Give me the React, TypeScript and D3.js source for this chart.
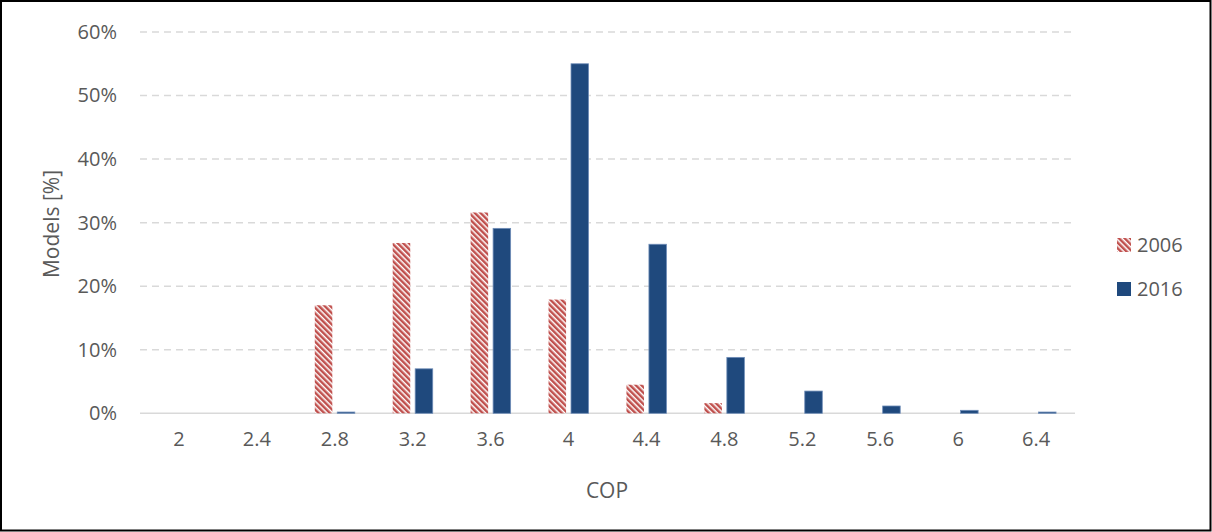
import { axisBottom, axisLeft, scaleBand, scaleLinear, select } from 'd3';
import { useEffect, useRef } from 'react';

const categories = ['2', '2.4', '2.8', '3.2', '3.6', '4', '4.4', '4.8', '5.2', '5.6', '6', '6.4'];
const series = ['2006', '2016'];
const values2006 = [0, 0, 17.0, 26.8, 31.6, 17.9, 4.5, 1.6, 0, 0, 0, 0];
const values2016 = [0, 0, 0.2, 7.0, 29.1, 55.0, 26.6, 8.8, 3.5, 1.15, 0.47, 0.2];
const yTicks = [0, 10, 20, 30, 40, 50, 60];

const font = '"Open Sans", sans-serif';
const textColor = '#595959';
const red = '#C0504D';
const blue = '#1F497D';

export default function App() {
  const width = 1212;
  const height = 532;
  const margin = { top: 32, bottom: 118.7, left: 140, right: 137 };
  const gx = useRef<SVGGElement>(null);
  const gy = useRef<SVGGElement>(null);

  const xScale = scaleBand()
    .domain(categories)
    .range([margin.left, width - margin.right])
    .paddingInner(0.4865)
    .paddingOuter(0.2433);

  const inner = scaleBand()
    .domain(series)
    .range([0, xScale.bandwidth()])
    .paddingInner(0.22);

  const yScale = scaleLinear()
    .domain([0, 60])
    .range([height - margin.bottom, margin.top]);

  useEffect(() => {
    const g = select(gy.current);
    g.call(axisLeft(yScale).tickValues(yTicks).tickSize(0).tickPadding(23).tickFormat((d) => `${d}%`));
    g.select('.domain').remove();
    g.selectAll('text').attr('fill', textColor).style('font-family', font).style('font-size', '20px');
  }, []);

  useEffect(() => {
    const g = select(gx.current);
    g.call(axisBottom(xScale).tickSize(0).tickPadding(19));
    g.select('.domain').remove();
    g.selectAll('text').attr('fill', textColor).style('font-family', font).style('font-size', '20px');
  }, []);

  const rows = [
    { name: '2006', values: values2006, fill: 'url(#hatch)', stroke: 'none' },
    { name: '2016', values: values2016, fill: blue, stroke: '#6F8DB8' },
  ];

  return (
    <svg width={width} height={height} style={{ position: 'absolute', left: 0, top: 0, background: '#fff' }}>
      <defs>
        <pattern id='hatch' patternUnits='userSpaceOnUse' width={4} height={4} patternTransform='rotate(-45)'>
          <rect width={4} height={4} fill='#fff' />
          <rect width={2.5} height={4} fill={red} />
        </pattern>
      </defs>
      <rect x={1} y={1} width={width - 2.5} height={height - 2.5} fill='#fff' stroke='#000' strokeWidth={2} />

      {yTicks.map((t) => (
        <line
          key={t}
          x1={margin.left}
          x2={width - margin.right}
          y1={yScale(t)}
          y2={yScale(t)}
          stroke='#D9D9D9'
          strokeWidth={1.5}
          strokeDasharray={t === 0 ? undefined : '7 5'}
        />
      ))}

      {rows.map((r) => (
        <g key={r.name}>
          {r.values.map((v, i) =>
            v > 0 ? (
              <rect
                key={categories[i]}
                x={xScale(categories[i])! + inner(r.name)!}
                y={yScale(v)}
                width={inner.bandwidth()}
                height={yScale(0) - yScale(v)}
                fill={r.fill}
                stroke={r.stroke}
                strokeWidth={0.8}
              />
            ) : null,
          )}
        </g>
      ))}

      <g ref={gy} transform={`translate(${margin.left}, 0)`}></g>
      <g ref={gx} transform={`translate(0, ${height - margin.bottom})`}></g>

      <text
        transform={`translate(53, 224) rotate(-90)`}
        textAnchor='middle'
        dominantBaseline='middle'
        fill={textColor}
        style={{ fontFamily: font, fontSize: 21 }}>
        Models [%]
      </text>
      <text x={607} y={498} textAnchor='middle' fill={textColor} style={{ fontFamily: font, fontSize: 21 }}>
        COP
      </text>

      {rows.map((r, i) => (
        <g key={r.name} transform={`translate(1117, ${238 + i * 44})`}>
          <rect width={14} height={14} fill={r.fill} />
          <text x={20} y={14} fill={textColor} style={{ fontFamily: font, fontSize: 20 }}>
            {r.name}
          </text>
        </g>
      ))}
    </svg>
  );
}
